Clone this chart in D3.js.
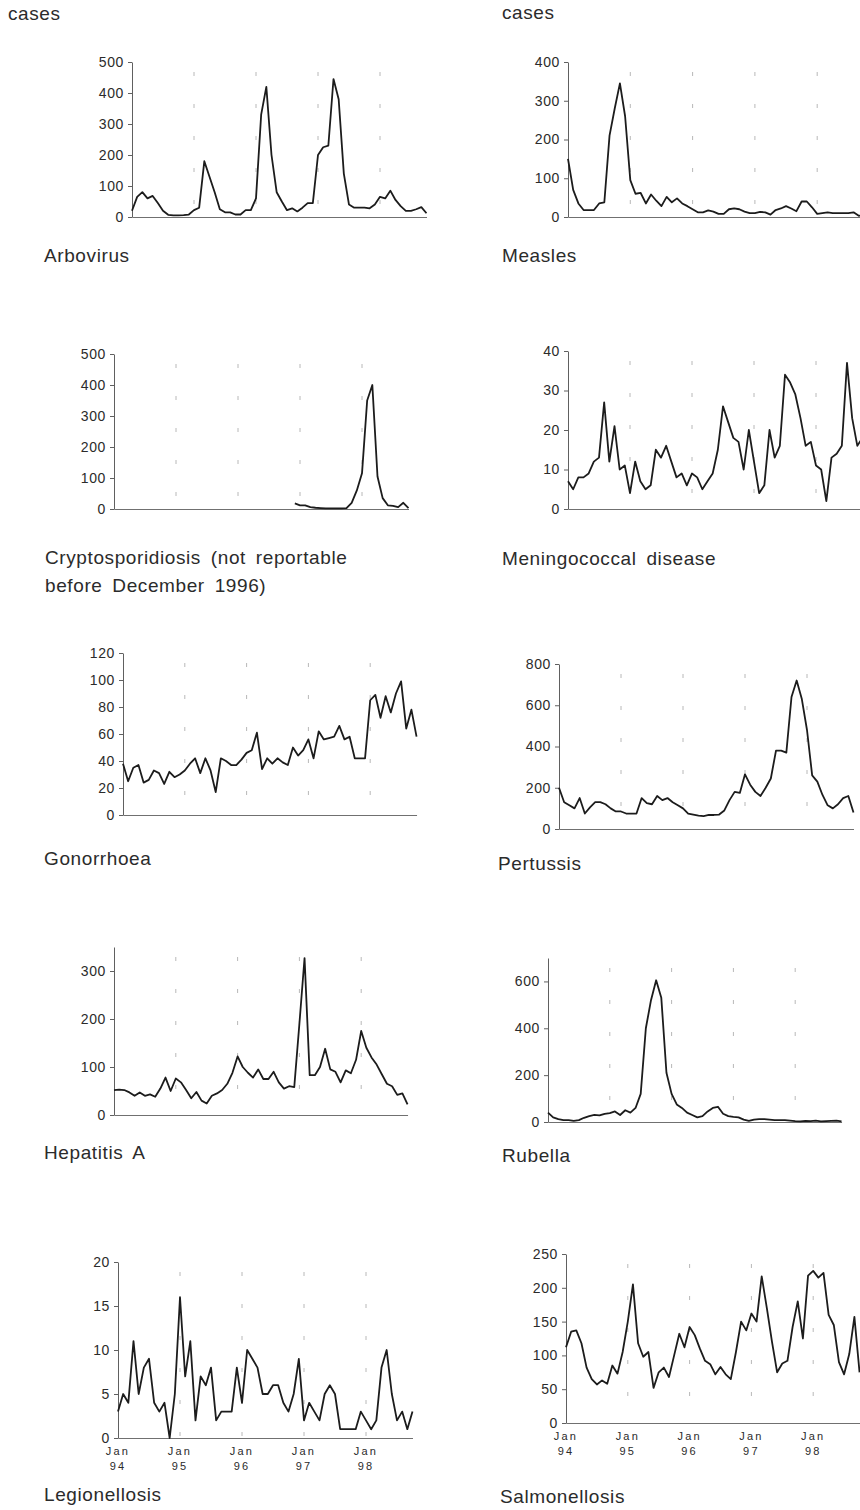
<!DOCTYPE html>
<html>
<head>
<meta charset="utf-8">
<script src="https://cdn.jsdelivr.net/npm/d3@7"></script>
<style>
  body { margin: 0; background: #fff; }
  text { font-family: "Liberation Sans", Arial, sans-serif; fill: #2b2b2b; }
</style>
</head>
<body>
<svg id="chart"></svg>
<script>
// monthly notifications, Jan 94 .. Oct 98 (58 months)
const yearLabels = ['94', '95', '96', '97', '98'];
const unitLabel = 'cases';

const arbovirus = [20,65,80,60,68,45,20,7,5,5,6,8,22,30,180,130,80,25,15,15,8,8,22,22,60,330,420,200,80,50,22,28,18,30,45,45,200,225,230,445,380,140,40,30,30,30,28,40,65,60,85,55,35,20,20,25,32,12];
const measles = [150,70,35,18,18,18,35,38,210,280,345,260,95,60,62,35,58,42,28,52,38,48,35,28,20,12,12,17,14,8,8,20,22,20,14,10,10,13,12,6,18,22,28,22,15,40,40,25,8,10,12,10,10,10,10,12,3,5];
// not reportable before December 1996
const cryptosporidiosis = [null,null,null,null,null,null,null,null,null,null,null,null,null,null,null,null,null,null,null,null,null,null,null,null,null,null,null,null,null,null,null,null,null,null,null,18,12,12,6,4,3,2,2,2,2,3,20,60,115,350,400,105,35,12,10,6,20,3];
const meningococcal = [7,5,8,8,9,12,13,27,12,21,10,11,4,12,7,5,6,15,13,16,12,8,9,6,9,8,5,7,9,15,26,22,18,17,10,20,12,4,6,20,13,16,34,32,29,23,16,17,11,10,2,13,14,16,37,23,16,18];
const gonorrhoea = [38,25,35,37,24,26,33,31,23,32,28,30,33,38,42,31,42,33,17,42,40,37,37,41,46,48,61,34,42,38,42,39,37,50,44,48,56,42,62,56,57,58,66,56,58,42,42,42,85,89,72,88,76,90,99,64,78,58];
const pertussis = [200,130,115,100,150,75,105,130,130,120,100,85,85,75,75,75,150,125,120,160,140,150,130,115,100,75,70,65,62,68,68,70,90,140,180,175,265,215,180,160,200,245,380,380,370,640,720,630,480,260,230,165,115,100,120,150,160,80];
const hepatitisA = [52,53,52,47,40,47,40,43,38,55,78,50,76,68,52,35,48,30,24,40,45,52,65,88,122,100,88,78,95,75,75,90,68,55,60,58,190,327,83,83,100,138,95,90,68,93,87,115,175,140,120,105,85,65,60,42,45,22];
const rubella = [40,20,12,8,8,5,8,18,25,30,28,35,38,45,30,50,40,60,120,400,520,605,530,210,120,75,60,40,30,20,25,45,60,65,35,25,22,20,10,5,10,12,12,10,8,8,8,6,4,3,5,4,6,3,4,5,6,3];
const legionellosis = [3,5,4,11,5,8,9,4,3,4,0,5,16,7,11,2,7,6,8,2,3,3,3,8,4,10,9,8,5,5,6,6,4,3,5,9,2,4,3,2,5,6,5,1,1,1,1,3,2,1,2,8,10,5,2,3,1,3];
const salmonellosis = [112,135,137,118,82,65,57,63,58,85,73,105,150,205,118,98,105,52,75,82,68,100,132,112,142,130,110,92,87,72,83,72,65,105,150,137,162,150,217,170,120,75,88,92,142,180,125,218,225,215,222,160,145,90,72,102,157,75];

const ticks500 = [0,100,200,300,400,500];
const ticks400 = [0,100,200,300,400];
const ticks40 = [0,10,20,30,40];
const ticks120 = [0,20,40,60,80,100,120];
const ticks800 = [0,200,400,600,800];
const ticks300 = [0,100,200,300];
const ticks600 = [0,200,400,600];
const ticks20 = [0,5,10,15,20];
const ticks250 = [0,50,100,150,200,250];

// layout of each small chart on the page
const panels = [
  { title: ['Arbovirus'], data: arbovirus, ticks: ticks500, max: 500, x0: 132, top: 62, bottom: 217, yearW: 62, tx: 44, ty: 262, cases: [8, 20] },
  { title: ['Measles'], data: measles, ticks: ticks400, max: 400, x0: 568, top: 62, bottom: 217, yearW: 62.3, tx: 502, ty: 262, cases: [502, 19] },
  { title: ['Cryptosporidiosis (not reportable', 'before December 1996)'], data: cryptosporidiosis, ticks: ticks500, max: 500, x0: 114, top: 354, bottom: 509, yearW: 62, tx: 45, ty: 564 },
  { title: ['Meningococcal disease'], data: meningococcal, ticks: ticks40, max: 40, x0: 568, top: 351, bottom: 509, yearW: 62, tx: 502, ty: 565 },
  { title: ['Gonorrhoea'], data: gonorrhoea, ticks: ticks120, max: 120, x0: 123, top: 653, bottom: 815, yearW: 61.8, tx: 44, ty: 865 },
  { title: ['Pertussis'], data: pertussis, ticks: ticks800, max: 800, x0: 559, top: 664, bottom: 829, yearW: 62, tx: 498, ty: 870 },
  { title: ['Hepatitis A'], data: hepatitisA, ticks: ticks300, max: 350, x0: 114, top: 947, bottom: 1115, yearW: 61.8, tx: 44, ty: 1159 },
  { title: ['Rubella'], data: rubella, ticks: ticks600, max: 700, x0: 548, top: 958, bottom: 1122, yearW: 61.8, tx: 502, ty: 1162 },
  { title: ['Legionellosis'], data: legionellosis, ticks: ticks20, max: 20, x0: 118, top: 1262, bottom: 1438, yearW: 62, tx: 44, ty: 1501, years: true },
  { title: ['Salmonellosis'], data: salmonellosis, ticks: ticks250, max: 250, x0: 566, top: 1254, bottom: 1423, yearW: 61.8, tx: 500, ty: 1503, years: true }
];

const svg = d3.select('#chart')
  .attr('width', 860)
  .attr('height', 1510);

panels.forEach(p => {
  const step = p.yearW / 12;
  const n = p.data.length;

  const x = d3.scaleLinear()
    .domain([0, n - 1])
    .range([p.x0, p.x0 + (n - 1) * step]);

  const y = d3.scaleLinear()
    .domain([0, p.max])
    .range([p.bottom, p.top]);

  const g = svg.append('g');

  // faint dashed year lines
  g.selectAll('.year-line')
    .data([12, 24, 36, 48])
    .enter().append('line')
    .attr('x1', d => x(d))
    .attr('x2', d => x(d))
    .attr('y1', p.top + 10)
    .attr('y2', p.bottom)
    .attr('stroke', '#b8b8b8')
    .attr('stroke-width', 1)
    .attr('stroke-dasharray', '4,28');

  // x axis (line only)
  const xAxis = g.append('g')
    .attr('transform', `translate(0,${p.bottom})`)
    .call(d3.axisBottom(x).tickValues([]).tickSizeOuter(0));
  xAxis.select('.domain').attr('stroke', '#707070');

  // y axis
  const yAxis = g.append('g')
    .attr('transform', `translate(${p.x0},0)`)
    .call(d3.axisLeft(y).tickValues(p.ticks).tickSize(4).tickSizeOuter(0).tickPadding(4));
  yAxis.select('.domain').attr('stroke', '#606060');
  yAxis.selectAll('.tick line').attr('stroke', '#606060');
  yAxis.selectAll('.tick text')
    .attr('font-family', '"Liberation Sans", Arial, sans-serif')
    .attr('font-size', 14)
    .attr('letter-spacing', 0.6)
    .attr('fill', '#2b2b2b');

  // month/year labels under the bottom charts
  if (p.years) {
    const lab = g.selectAll('.year-label')
      .data(yearLabels)
      .enter().append('g')
      .attr('transform', (d, i) => `translate(${x(i * 12)},${p.bottom})`);
    lab.append('text')
      .attr('y', 17)
      .attr('text-anchor', 'middle')
      .attr('font-size', 11)
      .attr('letter-spacing', 2.2)
      .text('Jan');
    lab.append('text')
      .attr('y', 32)
      .attr('text-anchor', 'middle')
      .attr('font-size', 11)
      .attr('letter-spacing', 2.2)
      .text(d => d);
  }

  // the series
  const line = d3.line()
    .defined(d => d != null)
    .x((d, i) => x(i))
    .y(d => y(d));

  g.append('path')
    .datum(p.data)
    .attr('fill', 'none')
    .attr('stroke', '#1c1c1c')
    .attr('stroke-width', 1.8)
    .attr('stroke-linejoin', 'round')
    .attr('d', line);

  // disease name
  g.selectAll('.title')
    .data(p.title)
    .enter().append('text')
    .attr('x', p.tx)
    .attr('y', (d, i) => p.ty + i * 28)
    .attr('font-size', 19)
    .attr('letter-spacing', 0.6)
    .attr('word-spacing', 4)
    .text(d => d);

  if (p.cases) {
    g.append('text')
      .attr('x', p.cases[0])
      .attr('y', p.cases[1])
      .attr('font-size', 19)
      .attr('letter-spacing', 0.6)
      .text(unitLabel);
  }
});
</script>
</body>
</html>
